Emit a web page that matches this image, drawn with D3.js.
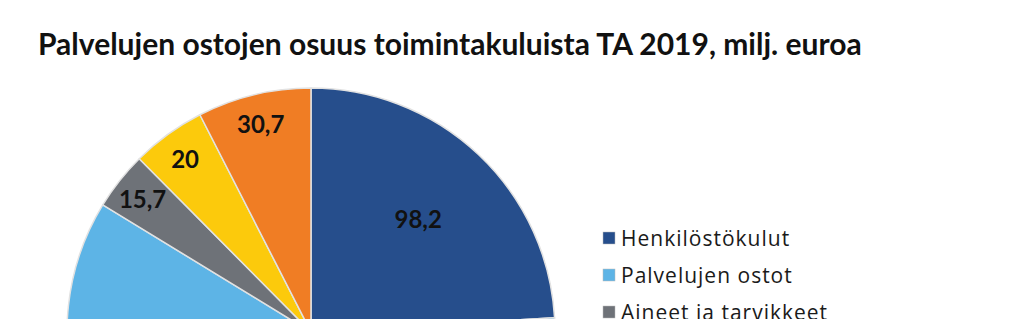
<!DOCTYPE html>
<html>
<head>
<meta charset="utf-8">
<script src="https://cdn.jsdelivr.net/npm/d3@7"></script>
<style>
  html, body { margin: 0; padding: 0; background: #fff; }
  svg { display: block; }
</style>
</head>
<body>
<svg id="chart" width="1024" height="319"></svg>
<script>
// Expense categories, budget 2019 (million euros)
const categories = [
  "Henkilöstökulut",
  "Palvelujen ostot",
  "Aineet ja tarvikkeet",
  "Avustukset",
  "Muut toimintakulut"
];
const values = [98.2, 243.4, 15.7, 20, 30.7];
const valueLabels = ["98,2", "243,4", "15,7", "20", "30,7"];
const colors = ["#264e8c", "#5db4e6", "#6e7278", "#fcca0c", "#f07d24"];
const title = "Palvelujen ostojen osuus toimintakuluista TA 2019, milj. euroa";

const svg = d3.select("#chart");

svg.append("text")
  .attr("x", 38)
  .attr("y", 55)
  .attr("font-family", "Lato, 'Open Sans', sans-serif")
  .attr("font-weight", 700)
  .attr("font-size", 30)
  .attr("fill", "#111")
  .text(title);

const cx = 311, cy = 332, radius = 244;

const color = d3.scaleOrdinal().domain(categories).range(colors);
const pie = d3.pie().sort(null).value(d => d.value);
const arcs = pie(categories.map((c, i) => ({ name: c, value: values[i], label: valueLabels[i] })));
const arc = d3.arc().innerRadius(0).outerRadius(radius);

const g = svg.append("g").attr("transform", `translate(${cx},${cy})`);

g.selectAll("path.slice")
  .data(arcs)
  .enter().append("path")
  .attr("class", "slice")
  .attr("d", arc)
  .attr("fill", d => color(d.data.name))
  .attr("stroke", "#e2e2e2")
  .attr("stroke-width", 1.5)
  .attr("stroke-linejoin", "round");

// value labels: large slices centred inside, narrow ones near the rim
g.selectAll("text.val")
  .data(arcs)
  .enter().append("text")
  .attr("class", "val")
  .attr("transform", d => {
    const span = d.endAngle - d.startAngle;
    const r = span > Math.PI / 3 ? radius * 0.64 : radius * 0.88;
    const a = (d.startAngle + d.endAngle) / 2;
    return `translate(${Math.sin(a) * r},${-Math.cos(a) * r})`;
  })
  .attr("text-anchor", "middle")
  .attr("dominant-baseline", "central")
  .attr("font-family", "Lato, 'Open Sans', sans-serif")
  .attr("font-weight", 700)
  .attr("font-size", 24)
  .attr("fill", "#111")
  .text(d => d.data.label);

// legend
const legendX = 603, legendY0 = 238, legendStep = 37;
const legend = svg.append("g");
const item = legend.selectAll("g.item")
  .data(categories)
  .enter().append("g")
  .attr("class", "item")
  .attr("transform", (d, i) => `translate(${legendX},${legendY0 + i * legendStep})`);

item.append("rect")
  .attr("x", 0).attr("y", -6)
  .attr("width", 12).attr("height", 12)
  .attr("fill", d => color(d))
  .attr("stroke", "#bbb")
  .attr("stroke-width", 0.5);

item.append("text")
  .attr("x", 18)
  .attr("y", 0)
  .attr("dominant-baseline", "central")
  .attr("font-family", "'Open Sans', 'Noto Sans', sans-serif")
  .attr("font-size", 21)
  .attr("letter-spacing", 1)
  .attr("fill", "#1a1a1a")
  .text(d => d);
</script>
</body>
</html>
